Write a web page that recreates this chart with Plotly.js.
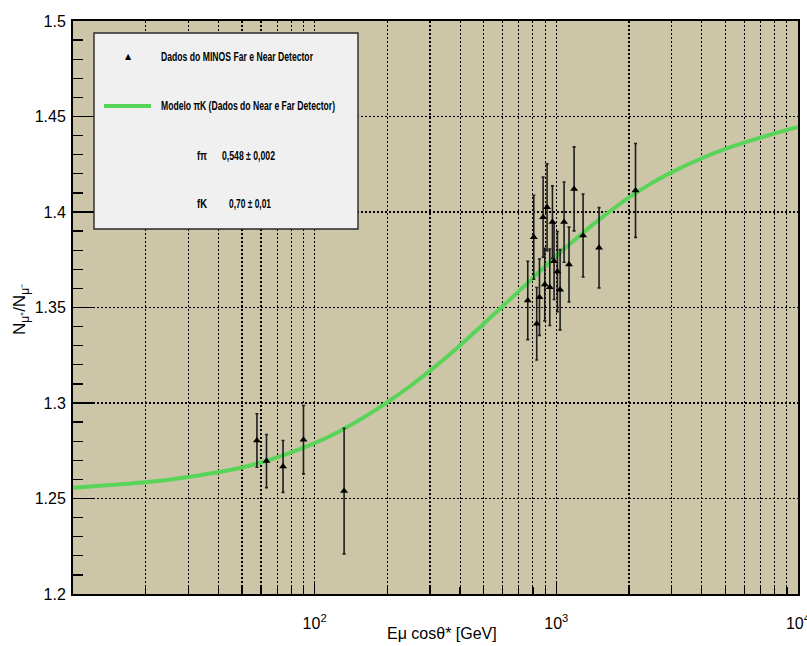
<!DOCTYPE html>
<html>
<head>
<meta charset="utf-8">
<script src="https://cdn.plot.ly/plotly-3.0.1.min.js"></script>
<style>html,body{margin:0;padding:0;background:#fff;}#chart{width:807px;height:646px;}</style>
</head>
<body>
<div id="chart"></div>
<script>
// MINOS data points (E_mu cos(theta*) in GeV, charge ratio, error)
var dataE = [57.7, 63.2, 74.0, 89.9, 132.4, 762, 807, 830, 852, 882, 896, 916, 940, 964, 979, 1011, 1037, 1077, 1129, 1185, 1291, 1503, 2128];
var dataR = [1.2804, 1.2696, 1.2668, 1.2808, 1.2539, 1.3537, 1.3868, 1.3415, 1.3554, 1.3973, 1.3620, 1.4025, 1.3606, 1.3947, 1.3742, 1.3688, 1.3593, 1.3947, 1.3725, 1.4121, 1.3877, 1.3813, 1.4113];
var dataErr = [0.0140, 0.0139, 0.0136, 0.0179, 0.0329, 0.0205, 0.0220, 0.0190, 0.0200, 0.0210, 0.0190, 0.0227, 0.0200, 0.0190, 0.0200, 0.0210, 0.0210, 0.0210, 0.0196, 0.0220, 0.0217, 0.0210, 0.0246];

// piK model curve
var curveE = [10, 19.95, 31.62, 50.12, 63.1, 79.43, 100, 125.9, 158.5, 199.5, 251.2, 316.2, 398.1, 501.2, 631, 794.3, 1000, 1259, 1585, 1995, 2512, 3162, 3981, 5012, 6310, 7943, 10000];
var curveR = [1.2556, 1.2585, 1.2617, 1.2662, 1.2697, 1.2740, 1.2790, 1.2850, 1.2922, 1.3003, 1.3093, 1.3192, 1.3300, 1.3415, 1.3532, 1.3650, 1.3770, 1.3880, 1.3982, 1.4075, 1.4155, 1.4222, 1.4280, 1.4330, 1.4372, 1.4410, 1.4445];

// axis ticks
var xMajorVals = [100, 1000, 10000];
var xMajorText = ['10<sup>2</sup>', '10<sup>3</sup>', '10<sup>4</sup>'];
var xMinorVals = [20, 30, 40, 50, 60, 70, 80, 90, 200, 300, 400, 500, 600, 700, 800, 900, 2000, 3000, 4000, 5000, 6000, 7000, 8000, 9000];
var yMajorVals = [1.2, 1.25, 1.3, 1.35, 1.4, 1.45, 1.5];
var yMajorText = ['1.2', '1.25', '1.3', '1.35', '1.4', '1.45', '1.5'];

// legend texts
var legendData = 'Dados do MINOS Far e Near Detector';
var legendModel = 'Modelo \u03C0K (Dados do Near e Far Detector)';
var fpiLabel = 'f\u03C0', fpiValue = '0,548 \u00B1 0,002';
var fkLabel = 'fK', fkValue = '0,70 \u00B1 0,01';

var GREEN = 'rgb(88,212,88)';
var BG = 'rgb(204,197,167)';
var DOT = '1.5px,2.5px';
var tickFont = {family: 'Liberation Sans, Arial, sans-serif', size: 16, color: 'black'};
var legFont = {family: 'Liberation Sans, Arial, sans-serif', size: 12, color: 'black', weight: 'bold'};

var traces = [
  {
    x: curveE, y: curveR, type: 'scatter', mode: 'lines',
    line: {color: GREEN, width: 4, shape: 'spline', smoothing: 0.6},
    hoverinfo: 'skip', showlegend: false
  },
  {
    x: dataE, y: dataR, type: 'scatter', mode: 'markers',
    marker: {symbol: 'triangle-up', size: 7, color: 'black'},
    error_y: {type: 'data', array: dataErr, visible: true, color: 'rgb(30,30,30)', thickness: 1.6, width: 1.5},
    showlegend: false
  }
];

function px2x(p) { return (p - 73) / 725; }
function py2y(p) { return (594 - p) / 573; }

var shapes = [
  {type: 'rect', xref: 'paper', yref: 'paper', x0: px2x(94), x1: px2x(358), y0: py2y(229), y1: py2y(33),
   fillcolor: 'rgb(240,240,240)', line: {color: 'rgb(40,40,40)', width: 1.4}, layer: 'above'},
  {type: 'line', xref: 'paper', yref: 'paper', x0: px2x(104), x1: px2x(151), y0: py2y(106), y1: py2y(106),
   line: {color: GREEN, width: 4}, layer: 'above'}
];

// target rendered widths (px) for the condensed legend texts
var squeeze = {};
squeeze[legendData] = 152;
squeeze[legendModel] = 174;
squeeze[fpiLabel] = 10;
squeeze[fpiValue] = 53;
squeeze[fkLabel] = 10;
squeeze[fkValue] = 42;

function ann(text, px, py, font, anchor) {
  return {text: text, xref: 'paper', yref: 'paper', x: px2x(px), y: py2y(py),
    xanchor: anchor || 'left', align: anchor || 'left', yanchor: 'middle', showarrow: false, font: font};
}

var annotations = [
  ann('\u25B2', 128, 57, {family: 'DejaVu Sans, sans-serif', size: 8, color: 'black'}, 'center'),
  ann(legendData, 159, 57, legFont),
  ann(legendModel, 159, 106, legFont),
  ann(fpiLabel, 195, 156, legFont),
  ann(fpiValue, 220, 156, legFont),
  ann(fkLabel, 195, 204, legFont),
  ann(fkValue, 227, 204, legFont),
  {text: 'E\u03BC cos\u03B8* [GeV]', xref: 'paper', yref: 'paper', x: px2x(442), y: py2y(633),
   xanchor: 'center', yanchor: 'middle', showarrow: false, font: tickFont},
  {text: 'N<sub>\u03BC\u207A</sub>/N<sub>\u03BC\u207B</sub>', xref: 'paper', yref: 'paper', x: px2x(21), y: py2y(310),
   xanchor: 'center', yanchor: 'middle', showarrow: false, textangle: -90,
   font: {family: 'Liberation Sans, Arial, sans-serif', size: 17, color: 'black'}}
];

var layout = {
  width: 807, height: 646,
  margin: {l: 73, r: 9, t: 21, b: 52, pad: 0},
  paper_bgcolor: 'white', plot_bgcolor: BG,
  showlegend: false,
  xaxis: {
    type: 'log', range: [1, 4.0003], tickmode: 'array', tickvals: xMajorVals, ticktext: xMajorText,
    ticks: 'inside', ticklen: 12, tickwidth: 1.5, tickcolor: 'black',
    showgrid: true, gridcolor: 'black', griddash: DOT, gridwidth: 1.2,
    minor: {tickmode: 'array', tickvals: xMinorVals, ticks: 'inside', ticklen: 7, tickwidth: 1.3, tickcolor: 'black',
            showgrid: true, gridcolor: 'black', griddash: DOT, gridwidth: 1.2},
    showline: true, mirror: true, linecolor: 'black', linewidth: 2,
    zeroline: false, tickfont: tickFont, ticklabelstandoff: 14, ticklabeloverflow: 'allow'
  },
  yaxis: {
    range: [1.2, 1.5], tickmode: 'array', tickvals: yMajorVals, ticktext: yMajorText,
    ticks: 'inside', ticklen: 20, tickwidth: 1.5, tickcolor: 'black',
    showgrid: true, gridcolor: 'black', griddash: DOT, gridwidth: 1.2,
    minor: {tickmode: 'linear', tick0: 1.2, dtick: 0.01, ticks: 'inside', ticklen: 10, tickwidth: 1.3, tickcolor: 'black', showgrid: false},
    showline: true, mirror: true, linecolor: 'black', linewidth: 2,
    zeroline: false, tickfont: tickFont, ticklabelstandoff: 2
  },
  shapes: shapes,
  annotations: annotations
};

Plotly.newPlot('chart', traces, layout, {staticPlot: true, displayModeBar: false}).then(function (gd) {
  var texts = gd.querySelectorAll('.annotation-text');
  texts.forEach(function (t) {
    var w = squeeze[t.textContent];
    if (w) {
      t.setAttribute('textLength', w);
      t.setAttribute('lengthAdjust', 'spacingAndGlyphs');
    }
  });
});
</script>
</body>
</html>
